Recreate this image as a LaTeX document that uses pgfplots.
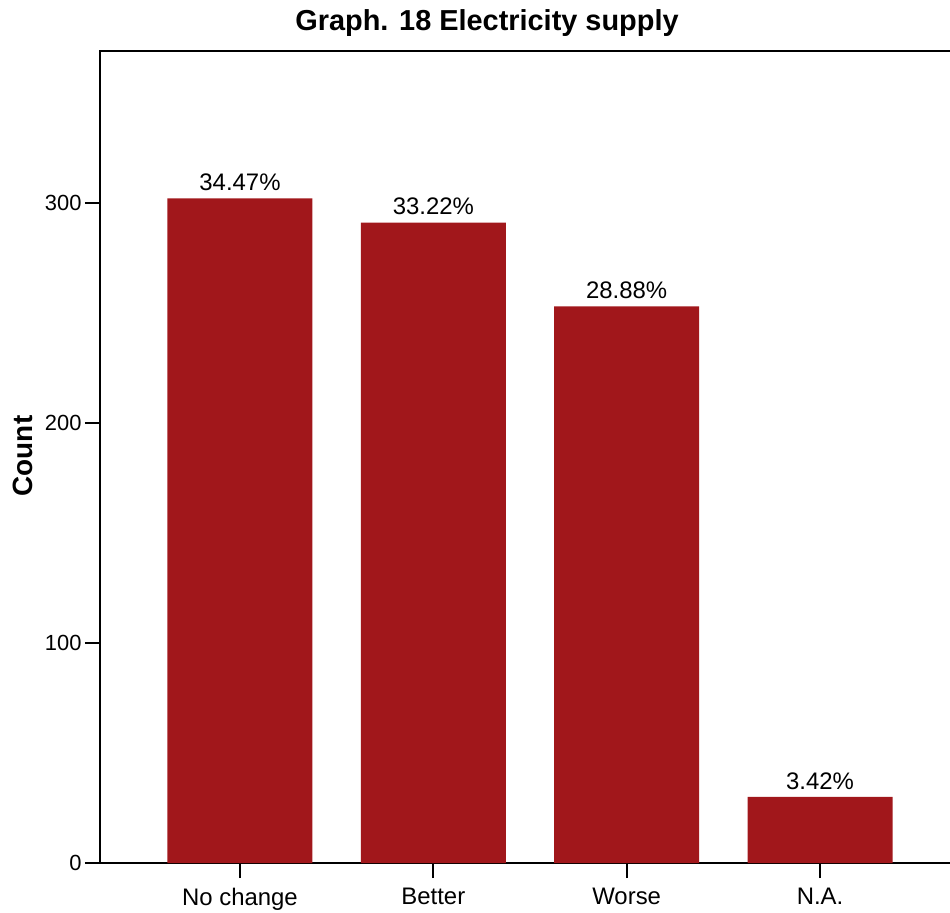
\documentclass[border=0pt]{standalone}
\usepackage{pgfplots}
\pgfplotsset{compat=1.18}
\usepackage{fontspec}
\setmainfont{Liberation Sans}
\definecolor{barred}{RGB}{161,23,27}
\begin{document}
\begin{tikzpicture}
\path[use as bounding box] (-100bp,-50bp) rectangle (850bp,863bp);
\begin{axis}[
  at={(0bp,0bp)}, anchor=south west,
  scale only axis, width=860bp, height=812bp,
  xmin=-0.724, xmax=3.724, ymin=0, ymax=369,
  axis line style={line width=2.8bp},
  xtick={0,1,2,3}, xticklabels={No change,Better,Worse,N.A.},
  ytick={0,100,200,300},
  xtick pos=bottom, ytick pos=left,
  tick align=outside, major tick length=15bp,
  tick style={line width=2bp, black},
  /pgf/number format/assume math mode=true,
  yticklabel style={font=\fontsize{22}{22}\selectfont},
  xticklabel style={font=\fontsize{24}{24}\selectfont, yshift=-7bp},
  point meta=explicit symbolic,
  nodes near coords={\pgfplotspointmeta\%},
  every node near coord/.append style={font=\fontsize{24}{24}\selectfont, anchor=south, yshift=4bp, black},
]
\addplot[ybar, bar width=0.75, fill=barred, draw=none] coordinates {
  (0,302) [34.47]
  (1,291) [33.22]
  (2,253) [28.88]
  (3,30) [3.42]
};
\end{axis}
\node[font=\bfseries\fontsize{29}{29}\selectfont] at (387bp,840bp) {Graph. 18 Electricity supply};
\node[font=\bfseries\fontsize{28}{28}\selectfont, rotate=90] at (-77bp,407bp) {Count};
\end{tikzpicture}
\end{document}
